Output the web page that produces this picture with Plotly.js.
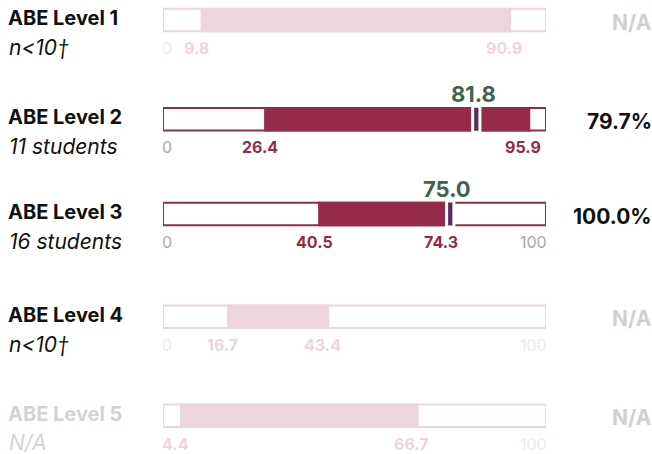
<!DOCTYPE html>
<html><head><meta charset="utf-8">
<script src="https://cdn.plot.ly/plotly-3.0.1.min.js"></script>
<style>html,body{margin:0;padding:0;background:#fff;}#chart{width:652px;height:454px;}</style>
</head><body><div id="chart"></div>
<script>
const levels = ['ABE Level 1', 'ABE Level 2', 'ABE Level 3', 'ABE Level 4', 'ABE Level 5'];
const subtitles = ['n<10†', '11 students', '16 students', 'n<10†', 'N/A'];
const lower = [9.8, 26.4, 40.5, 16.7, 4.4];
const upper = [90.9, 95.9, 74.3, 43.4, 66.7];
const marks = [null, 81.8, 75.0, null, null];
const rates = ['N/A', '79.7%', '100.0%', 'N/A', 'N/A'];
const scaleMin = 0, scaleMax = 100;

// layout constants (pixel row centres)
const W = 652, H = 454;
const rowCentre = [20, 119.2, 214, 316.7, 415.7];
const CRIMSON = '#952a4b', PINK = '#ecd5db', PURPLE = '#5b2e55', GREEN = '#3f6150';
const FONT = 'Inter, sans-serif';
const idx = levels.map((_, i) => i);
const rowY = idx.map(i => rowCentre[i]);
const active = marks.map(m => m !== null);
const mainCol = active.map(a => a ? CRIMSON : PINK);
const act = idx.filter(i => active[i]);

const traces = [
  {type: 'bar', orientation: 'h', y: rowY, x: idx.map(() => scaleMax - scaleMin), base: idx.map(() => scaleMin),
   width: 22.5, marker: {color: '#fff', line: {color: mainCol, width: 2}}, hoverinfo: 'skip'},
  {type: 'bar', orientation: 'h', y: rowY, x: idx.map(i => upper[i] - lower[i]), base: lower,
   width: 24.5, marker: {color: mainCol, line: {width: 0}}, hoverinfo: 'skip'},
  {type: 'bar', orientation: 'h', y: act.map(i => rowY[i]), x: act.map(() => 1.9),
   base: act.map(i => marks[i] - 0.95),
   width: 26, marker: {color: PURPLE, line: {color: '#fff', width: 3}}, hoverinfo: 'skip'}
];

const dag = s => s.replace('<', '&lt;').replace('†', '<span style="font-family:Lato">†</span>');
const ann = [];
idx.forEach(i => {
  const y = rowY[i];
  const na = subtitles[i] === 'N/A';
  ann.push({xref: 'paper', yref: 'y', x: 6 / W, y: y, xanchor: 'left', yshift: 2, showarrow: false,
    text: '<b>' + levels[i] + '</b>', font: {family: FONT, size: 20, color: na ? '#d3d3d3' : '#111'}});
  ann.push({xref: 'paper', yref: 'y', x: 7 / W, y: y, xanchor: 'left', yshift: -27, showarrow: false,
    text: '<i>' + dag(subtitles[i]) + '</i>', font: {family: FONT, size: 21, color: na ? '#d3d3d3' : '#111'}});
  ann.push({xref: 'paper', yref: 'y', x: 654 / W, y: y, xanchor: 'right', yshift: -2, showarrow: false,
    text: '<b>' + rates[i] + '</b>', font: {family: FONT, size: 21, color: rates[i] === 'N/A' ? '#d0d0d0' : '#111'}});
  const tickCol = active[i] ? '#a8a8a8' : '#ececec';
  if (lower[i] - scaleMin >= 6)
    ann.push({xref: 'x', yref: 'y', x: scaleMin, y: y, xanchor: 'left', xshift: -3, yshift: -28, showarrow: false,
      text: String(scaleMin), font: {family: FONT, size: 16, color: tickCol}});
  if (scaleMax - upper[i] >= 10)
    ann.push({xref: 'x', yref: 'y', x: scaleMax, y: y, xanchor: 'right', xshift: 3, yshift: -28, showarrow: false,
      text: String(scaleMax), font: {family: FONT, size: 16, color: tickCol}});
  ann.push({xref: 'x', yref: 'y', x: lower[i], y: y, xanchor: 'center', xshift: -4, yshift: -28, showarrow: false,
    text: '<b>' + lower[i].toFixed(1) + '</b>', font: {family: FONT, size: 16, color: mainCol[i]}});
  ann.push({xref: 'x', yref: 'y', x: upper[i], y: y, xanchor: 'center', xshift: -7, yshift: -28, showarrow: false,
    text: '<b>' + upper[i].toFixed(1) + '</b>', font: {family: FONT, size: 16, color: mainCol[i]}});
  if (active[i])
    ann.push({xref: 'x', yref: 'y', x: marks[i], y: y, xanchor: 'center', xshift: -3, yshift: 25, showarrow: false,
      text: '<b>' + marks[i].toFixed(1) + '</b>', font: {family: FONT, size: 22, color: GREEN}});
});

const layout = {
  width: W, height: H, margin: {l: 0, r: 0, t: 0, b: 0},
  paper_bgcolor: '#fff', plot_bgcolor: '#fff', showlegend: false, barmode: 'overlay',
  xaxis: {range: [scaleMin, scaleMax], domain: [163 / W, 546 / W], visible: false, fixedrange: true},
  yaxis: {range: [H, 0], visible: false, fixedrange: true},
  annotations: ann
};
Plotly.newPlot('chart', traces, layout, {displayModeBar: false, staticPlot: true});
</script></body></html>
